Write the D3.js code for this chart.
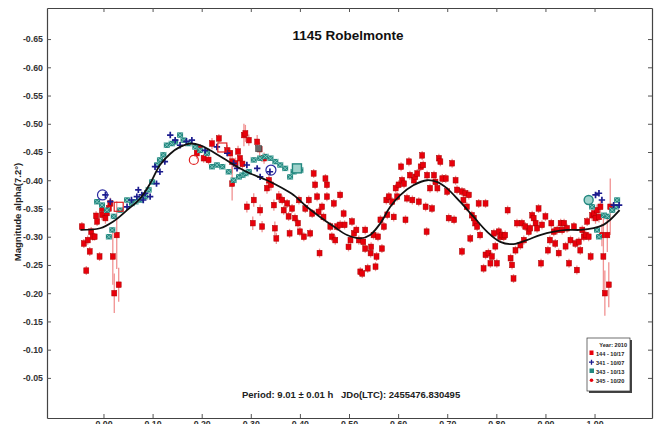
<!DOCTYPE html>
<html><head><meta charset="utf-8">
<script src="https://cdn.jsdelivr.net/npm/d3@7"></script>
<style>
body{margin:0;background:#fff}
svg{display:block}
text{font-family:"Liberation Sans",Arial,sans-serif}
</style>
</head><body>
<svg id="c" width="657" height="424"></svg>
<script>
// ---------- data ----------
const chartTitle = "1145 Robelmonte";
const yTitle = "Magnitude alpha(7.2°)";
const periodText = "Period: 9.01 ± 0.01 h";
const jdText = "JDo(LTC): 2455476.830495";
const xTicks = [0.0,0.1,0.2,0.3,0.4,0.5,0.6,0.7,0.8,0.9,1.0];
const yTicks = [-0.65,-0.60,-0.55,-0.50,-0.45,-0.40,-0.35,-0.30,-0.25,-0.20,-0.15,-0.10,-0.05];
const legendYear = "Year: 2010";
const legendLabels = ["144 - 10/17","341 - 10/07","343 - 10/13","345 - 10/20"];

// Fourier fit curve [phase, mag]
const fitCurve = [[-0.047,-0.312],[-0.007,-0.315],[0.020,-0.327],[0.048,-0.347],[0.075,-0.368],[0.095,-0.394],[0.115,-0.427],[0.136,-0.447],[0.156,-0.459],[0.177,-0.465],[0.197,-0.462],[0.217,-0.453],[0.244,-0.439],[0.272,-0.424],[0.299,-0.412],[0.333,-0.400],[0.360,-0.388],[0.387,-0.374],[0.414,-0.353],[0.441,-0.335],[0.469,-0.318],[0.496,-0.303],[0.523,-0.297],[0.543,-0.303],[0.564,-0.324],[0.584,-0.353],[0.605,-0.374],[0.631,-0.391],[0.659,-0.400],[0.679,-0.397],[0.699,-0.386],[0.726,-0.362],[0.754,-0.335],[0.781,-0.309],[0.808,-0.291],[0.835,-0.287],[0.862,-0.294],[0.889,-0.303],[0.917,-0.309],[0.944,-0.312],[0.971,-0.312],[0.998,-0.315],[1.018,-0.321],[1.032,-0.330],[1.051,-0.347]];

// session 144 (10/17): [phase, mag, error]
const s144 = [[-0.044,-0.318,.008],[-0.040,-0.288,.008],[-0.032,-0.294,.008],[-0.025,-0.309,.008],[-0.022,-0.300,.007],[-0.028,-0.274,.008],[-0.018,-0.300,.007],[-0.013,-0.327,.008],[-0.008,-0.265,.008],[-0.035,-0.240,.008],[-0.003,-0.339,.010],[0.004,-0.333,.010],[-0.003,-0.350,.008],[0.007,-0.342,.010],[0.014,-0.359,.010],[0.011,-0.350,.008],[0.019,-0.265,.05],[0.022,-0.200,.035],[0.031,-0.215,.03],[0.027,-0.303,.06],[-0.015,-0.337,.008],
[0.190,-0.448,.01],[0.197,-0.456,.008],[0.204,-0.439,.008],[0.214,-0.436,.008],[0.221,-0.465,.01],[0.235,-0.474,.008],[0.252,-0.453,.01],[0.258,-0.448,.01],[0.262,-0.433,.02],[0.262,-0.394,.03],[0.269,-0.430,.01],[0.274,-0.451,.01],[0.278,-0.439,.01],[0.283,-0.429,.01],[0.286,-0.480,.02],[0.289,-0.483,.015],[0.296,-0.471,.01],[0.313,-0.468,.012],[0.318,-0.455,.012],[0.327,-0.439,.01],[0.292,-0.353,.01],[0.306,-0.365,.012],[0.304,-0.324,.012],[0.319,-0.347,.01],[0.323,-0.318,.01],[0.333,-0.386,.01],[0.337,-0.400,.01],[0.341,-0.392,.01],[0.347,-0.356,.01],[0.349,-0.315,.012],[0.352,-0.297,.01],[0.357,-0.371,.01],[0.364,-0.365,.008],[0.367,-0.347,.008],[0.374,-0.359,.008],[0.377,-0.336,.008],[0.379,-0.306,.008],[0.384,-0.350,.008],[0.390,-0.333,.008],[0.396,-0.324,.008],[0.398,-0.365,.008],[0.400,-0.309,.008],
[0.408,-0.300,.008],[0.411,-0.350,.008],[0.418,-0.365,.008],[0.421,-0.306,.008],[0.425,-0.341,.008],[0.428,-0.412,.008],[0.431,-0.392,.008],[0.435,-0.371,.008],[0.438,-0.344,.008],[0.440,-0.271,.008],[0.445,-0.353,.008],[0.448,-0.335,.008],[0.452,-0.403,.008],[0.455,-0.392,.008],[0.455,-0.371,.008],[0.462,-0.318,.008],[0.465,-0.300,.008],[0.469,-0.359,.008],[0.472,-0.294,.008],[0.476,-0.318,.008],[0.482,-0.321,.008],[0.482,-0.374,.008],[0.489,-0.341,.008],[0.491,-0.321,.008],[0.499,-0.282,.008],[0.503,-0.294,.008],[0.506,-0.327,.008],[0.510,-0.306,.008],[0.515,-0.312,.008],[0.520,-0.294,.008],[0.523,-0.238,.008],[0.527,-0.235,.008],[0.529,-0.291,.008],[0.533,-0.312,.008],[0.533,-0.279,.008],[0.538,-0.244,.008],[0.544,-0.271,.008],[0.545,-0.282,.008],[0.550,-0.303,.008],[0.554,-0.247,.008],[0.556,-0.265,.008],[0.559,-0.300,.008],[0.564,-0.330,.008],[0.567,-0.279,.008],[0.571,-0.318,.008],[0.576,-0.365,.008],[0.578,-0.339,.008],[0.581,-0.371,.008],[0.588,-0.362,.008],[0.591,-0.335,.008],[0.595,-0.386,.008],[0.598,-0.371,.008],[0.601,-0.392,.008],[0.606,-0.424,.008],[0.608,-0.400,.008],[0.612,-0.394,.008],[0.615,-0.330,.008],[0.618,-0.368,.008],[0.622,-0.433,.008],[0.624,-0.409,.008],[0.629,-0.365,.008],[0.632,-0.400,.008],[0.635,-0.406,.008],[0.639,-0.412,.008],[0.642,-0.362,.008],[0.646,-0.424,.008],[0.649,-0.444,.008],[0.651,-0.427,.008],[0.656,-0.353,.008],[0.658,-0.309,.008],[0.659,-0.409,.008],[0.665,-0.386,.008],[0.669,-0.350,.008],[0.673,-0.409,.008],[0.676,-0.397,.008],[0.680,-0.386,.008],[0.683,-0.439,.008],[0.686,-0.433,.008],[0.690,-0.403,.008],[0.697,-0.403,.008],[0.700,-0.380,.008],[0.703,-0.333,.008],[0.710,-0.430,.008],[0.714,-0.330,.008],[0.717,-0.400,.008],[0.720,-0.383,.008],
[0.730,-0.380,.008],[0.737,-0.377,.008],[0.744,-0.374,.008],[0.733,-0.365,.008],[0.740,-0.353,.008],[0.730,-0.274,.008],[0.747,-0.297,.008],[0.750,-0.338,.008],[0.754,-0.333,.008],[0.757,-0.324,.008],[0.761,-0.318,.008],[0.764,-0.359,.008],[0.767,-0.303,.008],[0.778,-0.359,.008],[0.774,-0.244,.008],[0.778,-0.268,.008],[0.784,-0.271,.008],[0.788,-0.253,.008],[0.791,-0.265,.008],[0.795,-0.306,.008],[0.798,-0.283,.008],[0.801,-0.253,.008],[0.805,-0.309,.008],[0.808,-0.300,.008],[0.812,-0.303,.008],[0.815,-0.300,.008],[0.818,-0.303,.008],[0.823,-0.347,.008],[0.829,-0.262,.008],[0.832,-0.250,.008],[0.835,-0.226,.008],[0.839,-0.276,.008],[0.842,-0.324,.008],[0.849,-0.285,.008],[0.852,-0.324,.008],[0.856,-0.294,.008],[0.859,-0.318,.008],[0.866,-0.309,.008],[0.869,-0.315,.008],[0.873,-0.338,.008],[0.876,-0.333,.008],[0.880,-0.324,.008],[0.883,-0.315,.008],[0.886,-0.350,.008],[0.891,-0.253,.008],[0.893,-0.321,.008],[0.900,-0.336,.008],[0.905,-0.276,.008],[0.909,-0.294,.008],[0.912,-0.324,.008],[0.917,-0.309,.008],[0.920,-0.288,.008],[0.924,-0.312,.008],[0.927,-0.271,.008],[0.931,-0.324,.008],[0.934,-0.312,.008],[0.938,-0.324,.008],[0.941,-0.283,.008],[0.944,-0.315,.008],[0.948,-0.253,.008],[0.951,-0.294,.008],[0.958,-0.318,.008],[0.961,-0.288,.008],[0.964,-0.241,.008],[0.968,-0.291,.008],[0.971,-0.276,.008],[0.975,-0.312,.008],[0.978,-0.300,.008],[0.982,-0.303,.008],[0.985,-0.327,.008],[0.988,-0.300,.008],[0.992,-0.265,.008],[0.995,-0.338,.01],[0.999,-0.341,.01],[1.002,-0.333,.01],[1.005,-0.347,.01],[1.009,-0.335,.01],[1.012,-0.353,.012],[1.018,-0.265,.07],[1.021,-0.200,.04],[1.026,-0.303,.03],[1.029,-0.215,.04],[1.032,-0.353,.05],[1.015,-0.303,.02]];

// session 341 (10/07): [phase, mag]
const s341 = [[0.136,-0.480],[0.146,-0.471],[0.156,-0.462],[0.169,-0.469],[0.180,-0.471],[0.207,-0.453],[0.231,-0.459],[0.252,-0.448],[0.265,-0.430],[0.272,-0.421],[0.292,-0.427],[0.313,-0.421],[0.319,-0.406],[0.339,-0.415],[0.071,-0.383],[0.081,-0.365],[0.085,-0.377],[0.095,-0.371],[0.108,-0.394],[0.115,-0.415],[0.125,-0.433],[0.105,-0.424],[0.057,-0.365],[0.048,-0.353],[0.014,-0.362],[0.004,-0.374],[0.068,-0.371],[0.078,-0.374],[1.002,-0.374],[1.009,-0.377],[1.015,-0.365],[1.039,-0.356],[1.050,-0.356]];

// session 343 (10/13): [phase, mag]
const s343 = [[-0.013,-0.362],[-0.003,-0.356],[0.007,-0.347],[0.011,-0.300],[0.018,-0.312],[0.021,-0.336],[0.034,-0.347],[0.048,-0.365],[0.058,-0.359],[0.065,-0.362],[0.075,-0.365],[0.085,-0.371],[0.092,-0.383],[0.099,-0.397],[0.109,-0.427],[0.115,-0.436],[0.122,-0.445],[0.129,-0.462],[0.139,-0.465],[0.146,-0.468],[0.156,-0.480],[0.163,-0.471],[0.173,-0.465],[0.187,-0.459],[0.197,-0.453],[0.211,-0.448],[0.221,-0.424],[0.231,-0.427],[0.242,-0.424],[0.255,-0.415],[0.265,-0.400],[0.276,-0.406],[0.283,-0.409],[0.289,-0.412],[0.296,-0.415],[0.306,-0.436],[0.319,-0.439],[0.330,-0.442],[0.340,-0.439],[0.350,-0.433],[0.360,-0.427],[0.370,-0.421],[0.380,-0.406],[0.387,-0.415],[0.401,-0.418],[0.995,-0.353],[1.005,-0.312],[1.009,-0.300],[1.019,-0.338],[1.026,-0.336],[1.036,-0.347],[1.043,-0.353],[1.046,-0.365]];

// first points of sessions (open markers)
const first341 = [[-0.002,-0.374],[0.341,-0.418]];
const first345 = [[0.184,-0.436]];
const first144 = [[0.031,-0.353],[0.242,-0.458]];
const first343sq = [[0.394,-0.421]];
const first343ci = [[0.988,-0.365]];
const greyPoint = [[0.316,-0.456]];

// ---------- chart ----------
const L=47, R=652, T=8, B=418;
const svg = d3.select("#c");
const x = d3.scaleLinear().domain([-0.115,1.117]).range([L,R]);
const y = d3.scaleLinear().domain([-0.705,0.021]).range([T,B]);

const fmt = d => d.toFixed(2);
const axStyle = g => {
  g.selectAll(".domain").attr("stroke","#444").attr("stroke-width",1.2);
  g.selectAll(".tick line").attr("stroke","#555");
  g.selectAll(".tick text").attr("font-family","'Liberation Sans',Arial,sans-serif")
    .attr("font-size",8.8).attr("font-weight","bold").attr("fill","#333");
};
svg.append("g").attr("transform",`translate(0,${B})`)
  .call(d3.axisBottom(x).tickValues(xTicks).tickSize(-4).tickSizeOuter(0).tickPadding(3).tickFormat(fmt)).call(axStyle);
svg.append("g").attr("transform",`translate(0,${T})`)
  .call(d3.axisTop(x).tickValues(xTicks).tickSize(-4).tickSizeOuter(0).tickFormat("")).call(axStyle);
svg.append("g").attr("transform",`translate(${L},0)`)
  .call(d3.axisLeft(y).tickValues(yTicks).tickSize(-4).tickSizeOuter(0).tickPadding(4).tickFormat(fmt)).call(axStyle);
svg.append("g").attr("transform",`translate(${R},0)`)
  .call(d3.axisRight(y).tickValues(yTicks).tickSize(-4).tickSizeOuter(0).tickFormat("")).call(axStyle);

// title and labels
svg.append("text").attr("x",348).attr("y",40).attr("text-anchor","middle")
  .attr("font-size",13.5).attr("font-weight","bold").attr("fill","#111").text(chartTitle);
svg.append("text").attr("transform","translate(21,212) rotate(-90)").attr("text-anchor","middle")
  .attr("font-size",9.5).attr("font-weight","bold").attr("fill","#222").text(yTitle);
svg.append("text").attr("x",242).attr("y",398).attr("font-size",9.5).attr("font-weight","bold").attr("fill","#222").text(periodText);
svg.append("text").attr("x",341).attr("y",398).attr("font-size",9.5).attr("font-weight","bold").attr("fill","#222").text(jdText);

// session 144: error bars + red squares
const g144 = svg.append("g");
g144.selectAll("line").data(s144).join("line")
  .attr("x1",d=>x(d[0])).attr("x2",d=>x(d[0]))
  .attr("y1",d=>y(d[1]-d[2])).attr("y2",d=>y(d[1]+d[2]))
  .attr("stroke","#ef7f7f").attr("stroke-width",1.3).attr("opacity",0.85);
g144.selectAll("rect").data(s144).join("rect")
  .attr("x",d=>x(d[0])-2.5).attr("y",d=>y(d[1])-2.8).attr("width",5).attr("height",5.6)
  .attr("fill","#e8000b").attr("stroke","#a80000").attr("stroke-width",0.5);

// session 343: teal squares with cross
const g343 = svg.append("g");
const t = g343.selectAll("g").data(s343).join("g").attr("transform",d=>`translate(${x(d[0])},${y(d[1])})`);
t.append("rect").attr("x",-3).attr("y",-2.7).attr("width",6).attr("height",5.4).attr("fill","#23877f");
t.append("path").attr("d","M-3,-2.7L3,2.7M3,-2.7L-3,2.7").attr("stroke","#8fd0c8").attr("stroke-width",0.8);

// session 341: navy plus
svg.append("g").selectAll("path").data(s341).join("path")
  .attr("transform",d=>`translate(${x(d[0])},${y(d[1])})`)
  .attr("d","M-3.2,0H3.2M0,-3.2V3.2").attr("stroke","#1c1c8e").attr("stroke-width",1.7);

// first-point markers
svg.append("g").selectAll("circle").data(first341).join("circle")
  .attr("cx",d=>x(d[0])).attr("cy",d=>y(d[1])).attr("r",5)
  .attr("fill","none").attr("stroke","#2a2aa0").attr("stroke-width",1.2);
svg.append("g").selectAll("circle").data(first345).join("circle")
  .attr("cx",d=>x(d[0])).attr("cy",d=>y(d[1])).attr("r",4.5)
  .attr("fill","none").attr("stroke","#e02020").attr("stroke-width",1.2);
svg.append("g").selectAll("rect").data(first144).join("rect")
  .attr("x",d=>x(d[0])-4.5).attr("y",d=>y(d[1])-4.5).attr("width",9).attr("height",9)
  .attr("fill","none").attr("stroke","#e02020").attr("stroke-width",1.2);
svg.append("g").selectAll("rect").data(first343sq).join("rect")
  .attr("x",d=>x(d[0])-4.5).attr("y",d=>y(d[1])-4.5).attr("width",9).attr("height",9)
  .attr("fill","#9fd3cc").attr("stroke","#23877f").attr("stroke-width",1.4);
svg.append("g").selectAll("circle").data(first343ci).join("circle")
  .attr("cx",d=>x(d[0])).attr("cy",d=>y(d[1])).attr("r",4.5)
  .attr("fill","#9fd3cc").attr("stroke","#23877f").attr("stroke-width",1.4);
svg.append("g").selectAll("rect").data(greyPoint).join("rect")
  .attr("x",d=>x(d[0])-3).attr("y",d=>y(d[1])-3).attr("width",6).attr("height",6)
  .attr("fill","#666").attr("stroke","#444").attr("stroke-width",0.6);

// fit curve
svg.append("path").datum(fitCurve)
  .attr("d",d3.line().x(d=>x(d[0])).y(d=>y(d[1])).curve(d3.curveCatmullRom.alpha(0.5)))
  .attr("fill","none").attr("stroke","#111").attr("stroke-width",1.8);

// legend
const lg = svg.append("g");
lg.append("rect").attr("x",589).attr("y",340).attr("width",43).attr("height",53).attr("fill","#444");
lg.append("rect").attr("x",587).attr("y",338).attr("width",43).attr("height",53).attr("fill","#fff").attr("stroke","#333").attr("stroke-width",0.7);
lg.append("text").attr("x",627).attr("y",347).attr("text-anchor","end").attr("font-size",5.6).attr("font-weight","bold").attr("fill","#222").text(legendYear);
const ly = [355.5,364.5,373.5,382.5];
lg.selectAll("text.l").data(legendLabels).join("text").attr("class","l")
  .attr("x",596).attr("y",(d,i)=>ly[i]).attr("font-size",5.6).attr("font-weight","bold").attr("fill","#222").text(d=>d);
lg.append("rect").attr("x",589.5).attr("y",ly[0]-5).attr("width",4).attr("height",4.5).attr("fill","#e8000b");
lg.append("path").attr("d",`M589,${ly[1]-2.3}h5M591.5,${ly[1]-4.8}v5`).attr("stroke","#1c1c8e").attr("stroke-width",1.3);
lg.append("rect").attr("x",589.5).attr("y",ly[2]-5).attr("width",4.5).attr("height",4.5).attr("fill","#23877f");
lg.append("circle").attr("cx",591.5).attr("cy",ly[3]-2.2).attr("r",1.8).attr("fill","#e8000b");
</script>
</body></html>
